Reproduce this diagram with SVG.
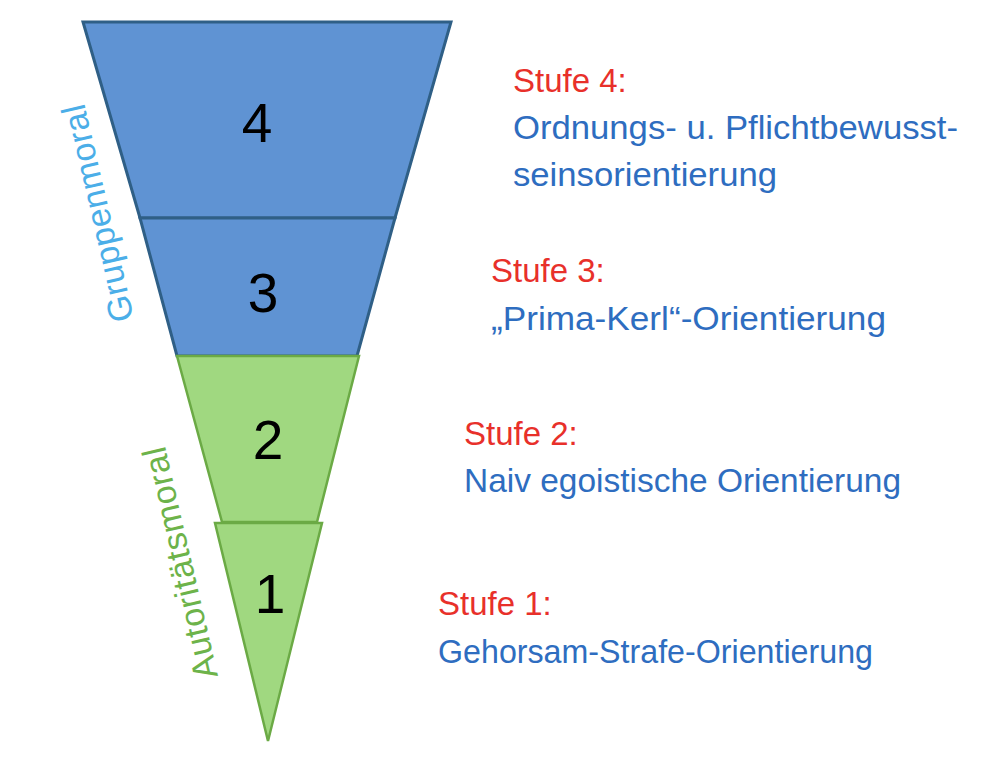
<svg xmlns="http://www.w3.org/2000/svg" width="992" height="774" viewBox="0 0 992 774">
<style>
.blue{fill:#5F93D3;stroke:#2F5F86;stroke-width:3;stroke-linejoin:miter}
.green{fill:#A0D880;stroke:#6BAA45;stroke-width:2.5;stroke-linejoin:miter}
.num{font-family:"Liberation Sans",Arial,sans-serif;font-size:55px;fill:#000;text-anchor:middle}
.lbl{font-family:"Liberation Sans",Arial,sans-serif;font-size:33px}
.red{fill:#E8302A}
.bt{fill:#2E6DC0}
.side{font-family:"Liberation Sans",Arial,sans-serif;font-size:34px}
</style>
<rect width="992" height="774" fill="#fff"/>
<g id="stage4">
<polygon class="blue" points="83,22 451,22 395,218 140,218"/>
<text class="num" x="257" y="142">4</text>
</g>
<g id="stage3">
<polygon class="blue" points="140,218 395,218 357,356 177,356"/>
<text class="num" x="263" y="312">3</text>
</g>
<g id="stage2">
<polygon class="green" points="177,356 359,356 317,522 222,522"/>
<text class="num" x="268" y="459">2</text>
</g>
<g id="stage1">
<polygon class="green" points="215,523 322,523 268,741"/>
<text class="num" x="270" y="613">1</text>
</g>
<g id="group-labels">
<text class="side" fill="#4BAEE8" transform="translate(134,319) rotate(-103)" textLength="222" lengthAdjust="spacing">Gruppenmoral</text>
<text class="side" fill="#6DB34A" transform="translate(218,676) rotate(-103)" textLength="237" lengthAdjust="spacing">Autoritätsmoral</text>
</g>
<g id="desc4">
<text class="lbl red" x="513" y="92">Stufe 4:</text>
<text class="lbl bt" x="513" y="139" textLength="445" lengthAdjust="spacingAndGlyphs">Ordnungs- u. Pflichtbewusst-</text>
<text class="lbl bt" x="513" y="186" textLength="264" lengthAdjust="spacingAndGlyphs">seinsorientierung</text>
</g>
<g id="desc3">
<text class="lbl red" x="491" y="282">Stufe 3:</text>
<text class="lbl bt" x="491" y="330" textLength="395" lengthAdjust="spacingAndGlyphs">„Prima-Kerl“-Orientierung</text>
</g>
<g id="desc2">
<text class="lbl red" x="464" y="445">Stufe 2:</text>
<text class="lbl bt" x="464" y="492" textLength="437" lengthAdjust="spacingAndGlyphs">Naiv egoistische Orientierung</text>
</g>
<g id="desc1">
<text class="lbl red" x="438" y="615">Stufe 1:</text>
<text class="lbl bt" x="438" y="663" textLength="435" lengthAdjust="spacingAndGlyphs">Gehorsam-Strafe-Orientierung</text>
</g>
<g id="connectors"></g>
</svg>
